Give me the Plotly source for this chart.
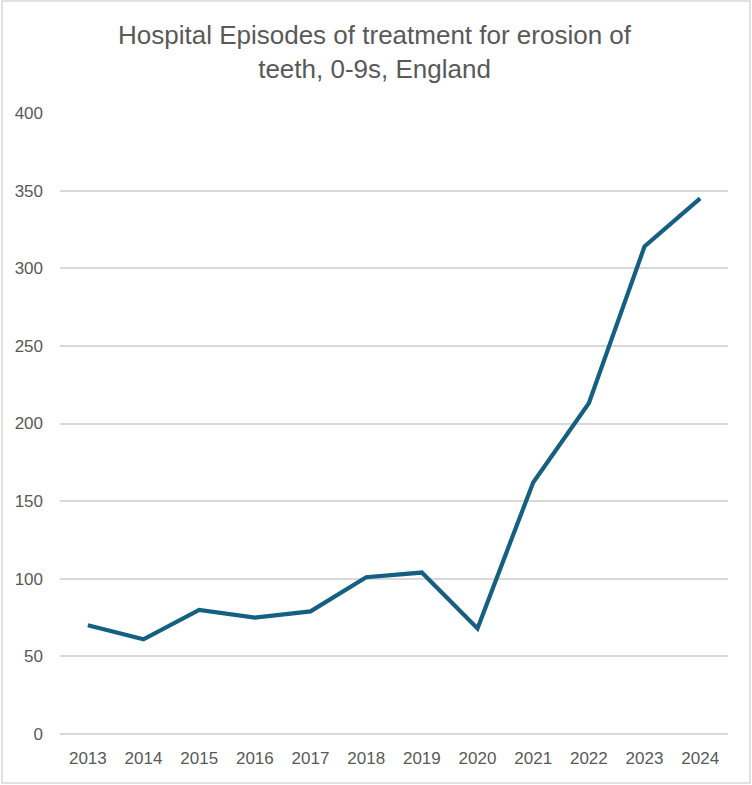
import plotly.graph_objects as go

# --- Données ---
annees = ["2013", "2014", "2015", "2016", "2017", "2018",
          "2019", "2020", "2021", "2022", "2023", "2024"]
episodes = [70, 61, 80, 75, 79, 101, 104, 68, 162, 213, 314, 345]

titre = "Hospital Episodes of treatment for erosion of<br>teeth, 0-9s, England"

gris_texte = "#595959"
gris_grille = "#d9d9d9"

fig = go.Figure()

fig.add_trace(go.Scatter(
    x=annees, y=episodes,
    mode="lines", name="Episodes",
    line=dict(color="#156082", width=4.2, shape="linear"),
    showlegend=False
))

# Cadre de la zone du graphique (style Excel)
fig.add_shape(
    type="rect", xref="paper", yref="paper",
    x0=-0.0868, x1=1.0329, y0=-0.0789, y1=1.1804,
    line=dict(color=gris_grille, width=1.5), fillcolor="rgba(0,0,0,0)",
    layer="below"
)

# Titre sur deux lignes
fig.add_annotation(
    text=titre, xref="paper", yref="paper",
    x=0.472, y=1.098, xanchor="center", yanchor="middle",
    showarrow=False, align="center",
    font=dict(size=26, color=gris_texte)
)

fig.update_layout(
    width=752, height=785,
    margin=dict(l=60, r=24, t=113, b=51),
    paper_bgcolor="white", plot_bgcolor="white",
    font=dict(family="Liberation Sans, Arial, sans-serif", color=gris_texte),
    xaxis=dict(
        type="category", range=[-0.5, 11.5],
        showgrid=False, showline=False, zeroline=False,
        ticks="", ticklabelstandoff=12,
        tickfont=dict(size=17, color=gris_texte)
    ),
    yaxis=dict(
        range=[0, 400], dtick=50, tick0=0,
        showgrid=True, gridcolor=gris_grille, gridwidth=1.5,
        zeroline=True, zerolinecolor=gris_grille, zerolinewidth=1.5,
        showline=False, ticks="", ticklabelstandoff=16,
        tickfont=dict(size=17, color=gris_texte)
    ),
)

# Pas de marge autour du graphique dans la page, pas de barre d'outils
fig.write_html(
    "out.html",
    config={"displayModeBar": False},
    post_script="document.body.style.margin='0';"
)
